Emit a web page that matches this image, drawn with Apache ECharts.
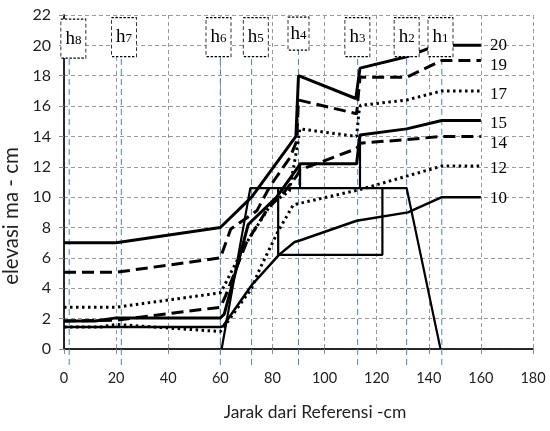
<!DOCTYPE html>
<html>
<head>
<meta charset="utf-8">
<script src="https://cdn.jsdelivr.net/npm/echarts@6/dist/echarts.min.js"></script>
<style>
  html, body { margin: 0; padding: 0; background: #fff; }
  #chart { width: 550px; height: 431px; }
</style>
</head>
<body>
<div id="chart"></div>
<script>
// Water surface profiles along the flume, one per upstream level (elevasi, cm)
const profileNames = ['20', '19', '17', '15', '14', '12', '10'];
const profile20 = [[0, 7], [20, 7], [60, 8], [72, 10], [89, 14], [90, 18], [112, 16.5], [113.6, 18.5], [131.5, 19.25], [140, 19.8], [146, 20], [160, 20]];
const profile19 = [[0, 5.05], [20, 5.05], [60, 6], [64, 7.9], [74, 9.1], [79, 10.7], [86.7, 12.6], [89.3, 13.7], [90, 16.4], [112.3, 15.5], [113.6, 17.9], [131.5, 17.9], [145, 19], [160, 19]];
const profile17 = [[0, 2.75], [20, 2.75], [60, 3.7], [61, 4], [69.5, 6.85], [79.7, 9.6], [86.5, 10.4], [89.8, 13.6], [90.5, 14.5], [112.3, 14], [113.2, 15.6], [113.8, 16.05], [131.5, 16.4], [145, 17], [160, 17]];
const profile15 = [[0, 1.85], [12, 1.85], [20, 2.05], [60, 2.05], [61.5, 2.3], [70.7, 8.2], [81.6, 10], [89.9, 12], [90.6, 12.2], [112.3, 12.2], [113.6, 14.1], [131.5, 14.5], [145, 15.05], [160, 15.05]];
const profile14 = [[0, 1.85], [20, 1.9], [60, 2.75], [62, 3.5], [70, 7], [78, 9.2], [84.8, 10.4], [89.3, 11.4], [90.6, 11.8], [112.3, 13.2], [113.6, 13.55], [131.5, 13.8], [145, 14], [160, 14]];
const profile12 = [[0, 1.45], [14, 1.45], [20, 1.62], [60, 1.15], [62, 1.6], [72, 4], [75.2, 5.3], [82, 7.7], [88, 9.5], [100.8, 10], [113.6, 10.5], [145, 12.05], [160, 12.05]];
const profile10 = [[0, 1.45], [20, 1.45], [60, 1.45], [61, 1.5], [72, 4.2], [82.5, 6.2], [88.5, 7.05], [90.5, 7.15], [112.3, 8.45], [132, 9], [145, 10], [160, 10]];

// Weir body and its parts (thin solid outline)
const weirProfile = [[60.5, 0], [71.5, 10.6], [131.5, 10.6], [144.5, 0]];
const weirCore = [[82.2, 10.6], [82.2, 6.2], [122.2, 6.2], [122.2, 10.6]];
const weirStep1 = [[90.6, 10.6], [90.6, 12.2]];
const weirStep2 = [[113.6, 10.6], [113.6, 14.1]];

// Measuring points h1..h8 (distance from reference, cm)
const gaugeNames = ['h8', 'h7', 'h6', 'h5', 'h4', 'h3', 'h2', 'h1'];
const gaugeX = [2, 22, 60, 72, 90, 112.7, 131.5, 145];
const gaugeBoxX = [3.6, 23, 59.3, 73.6, 90, 112.6, 131.5, 144.5];
const gaugeBoxY = [20.45, 20.55, 20.55, 20.55, 20.77, 20.55, 20.55, 20.55];
const gaugeLineRange = [-1.05, 20];

// Axis ticks
const xTicks = { min: 0, max: 180, interval: 20 };
const yTicks = { min: 0, max: 22, interval: 2 };

const profiles = [profile20, profile19, profile17, profile15, profile14, profile12, profile10];

// Line look per profile: solid / dashed / dotted
const solid = 'solid';
const dashed = [12, 6];
const dotted = [2.5, 3.5];
const profileStyle = [
  { type: solid, width: 3, dy: 0 },
  { type: dashed, width: 3, dy: 5 },
  { type: dotted, width: 3, dy: 4 },
  { type: solid, width: 3, dy: 3 },
  { type: dashed, width: 3, dy: 7 },
  { type: dotted, width: 3, dy: 2 },
  { type: solid, width: 2.5, dy: 1 }
];

const series = [];

// Gauge lines (blue dashed verticals), drawn beneath everything else
gaugeX.forEach((x, i) => {
  series.push({
    type: 'line',
    name: gaugeNames[i] + '-line',
    data: [[x, gaugeLineRange[0]], [x, gaugeLineRange[1]]],
    symbol: 'none',
    clip: false,
    silent: true,
    z: 1,
    lineStyle: { color: '#4f81bd', width: 1, type: [6, 4] }
  });
});

// Weir outline
[weirProfile, weirCore, weirStep1, weirStep2].forEach((d, i) => {
  series.push({
    type: 'line',
    name: 'weir' + i,
    data: d,
    symbol: 'none',
    z: 3,
    lineStyle: { color: '#000', width: 2.2 }
  });
});

// Profiles with end labels
profiles.forEach((d, i) => {
  const st = profileStyle[i];
  series.push({
    type: 'line',
    name: profileNames[i],
    data: d,
    symbol: 'none',
    z: 4,
    lineStyle: { color: '#000', width: st.width, type: st.type, cap: 'butt' },
    endLabel: {
      show: true,
      formatter: '{a}',
      color: '#000',
      fontFamily: 'Liberation Serif',
      fontSize: 17,
      distance: 9,
      offset: [0, st.dy]
    }
  });
});

// Gauge name boxes
series.push({
  type: 'scatter',
  name: 'gauges',
  z: 10,
  symbol: 'rect',
  data: gaugeNames.map((n, i) => ({
    name: n,
    value: [gaugeBoxX[i], gaugeBoxY[i]],
    symbolSize: n === 'h4' ? [21, 33] : [25, 39]
  })),
  itemStyle: { color: '#fff', opacity: 1, borderColor: '#000', borderWidth: 1, borderType: [3, 2] },
  label: {
    show: true,
    position: 'inside',
    formatter: p => '{h|h}{n|' + p.name.slice(1) + '}',
    rich: {
      h: { fontFamily: 'Liberation Serif', fontSize: 19, color: '#000', verticalAlign: 'bottom' },
      n: { fontFamily: 'Liberation Serif', fontSize: 13, color: '#000', verticalAlign: 'bottom', padding: [0, 0, 1, 0] }
    }
  }
});

const chart = echarts.init(document.getElementById('chart'), null, { renderer: 'canvas' });
chart.setOption({
  animation: false,
  backgroundColor: '#fff',
  grid: { left: 64, right: 17, top: 15, bottom: 82, containLabel: false, outerBoundsMode: 'none' },
  xAxis: [{
    type: 'value',
    min: xTicks.min, max: xTicks.max, interval: xTicks.interval,
    name: 'Jarak dari Referensi -cm',
    nameLocation: 'middle',
    nameGap: 54,
    nameTextStyle: { fontFamily: 'Lato', fontSize: 17.5, color: '#222', padding: [0, 0, 0, 33] },
    axisLine: { show: true, onZero: false, lineStyle: { color: '#888', width: 1.5 } },
    axisTick: { show: true, length: 5, lineStyle: { color: '#888' } },
    axisLabel: { fontFamily: 'Lato', fontSize: 14.5, color: '#222', margin: 22 },
    splitLine: { show: true, lineStyle: { color: '#9a9a9a', width: 1, type: [4, 3] } }
  }, {
    type: 'value', position: 'top',
    min: xTicks.min, max: xTicks.max,
    axisLine: { show: true, lineStyle: { color: '#000', width: 1.5 } },
    axisTick: { show: false }, axisLabel: { show: false }, splitLine: { show: false }
  }],
  yAxis: [{
    type: 'value',
    min: yTicks.min, max: yTicks.max, interval: yTicks.interval,
    name: 'elevasi ma - cm',
    nameLocation: 'middle',
    nameGap: 36,
    nameTextStyle: { fontFamily: 'Lato', fontSize: 20.5, color: '#222', padding: [0, 68, 0, 0] },
    axisLine: { show: true, onZero: false, lineStyle: { color: '#888', width: 1.5 } },
    axisTick: { show: true, length: 5, lineStyle: { color: '#888' } },
    axisLabel: { fontFamily: 'Lato', fontSize: 16, color: '#222', margin: 13 },
    splitLine: { show: true, lineStyle: { color: '#9a9a9a', width: 1, type: [4, 3] } }
  }, {
    type: 'value', position: 'right',
    min: yTicks.min, max: yTicks.max,
    axisLine: { show: true, lineStyle: { color: '#000', width: 1.5 } },
    axisTick: { show: false }, axisLabel: { show: false }, splitLine: { show: false }
  }],
  series: series
});
</script>
</body>
</html>
